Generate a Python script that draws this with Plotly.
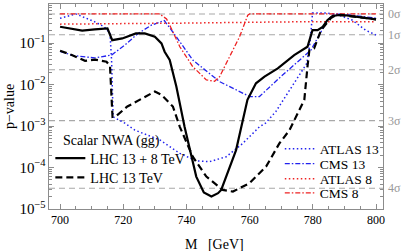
import math
import plotly.graph_objects as go

# ---------------- data ----------------
m_comb = [700, 707, 711, 715, 716.5, 719.7, 724, 726.8, 730, 732.1, 733.1, 734.7, 736.8, 739.4,
          743.1, 745.5, 747.9, 750, 751, 755.7, 759.3, 762, 764.7, 768.9, 774.1, 778.3, 779.9,
          781.5, 783.1, 784.6, 786.2, 789, 800]
p_comb = [0.247, 0.200, 0.214, 0.226, 0.117, 0.129, 0.170, 0.170, 0.141, 0.098, 0.0617, 0.0389,
          0.00891, 0.000955, 6.03e-05, 2.51e-05, 2.0e-05, 2.4e-05, 2.88e-05, 0.000263, 0.00427,
          0.0107, 0.0155, 0.0245, 0.0513, 0.0813, 0.204, 0.204, 0.245, 0.355, 0.447, 0.479, 0.372]

m_13 = [700, 703.7, 707.9, 711, 714.7, 715.8, 716.6, 717.9, 721.3, 726.8, 730, 732.1, 733.7, 735.7,
        737.9, 742, 746.3, 751.5, 754.7, 759.9, 765.2, 769.4, 772.6, 776, 777.3, 778.3, 778.9,
        780.4, 782.6, 785.7, 787.3, 791.5, 800]
p_13 = [0.0653, 0.0513, 0.0372, 0.0398, 0.0355, 0.0282, 0.00166, 0.00178, 0.00295, 0.00513,
        0.00676, 0.00562, 0.00427, 0.00295, 0.000955, 0.000182, 6.03e-05, 2.88e-05, 2.63e-05,
        4.17e-05, 0.000105, 0.00038, 0.000794, 0.00282, 0.00427, 0.0269, 0.0676, 0.0741, 0.204,
        0.398, 0.473, 0.447, 0.372]

m_atlas13 = [700, 705, 711, 714, 715.8, 716.3, 716.8, 720.5, 723.7, 726.3, 731.7, 737.9, 743.1,
             747.3, 752.6, 757.8, 763.1, 765, 768.3, 778.1, 779.1, 779.9, 784, 787.3, 792.5,
             796.7, 800]
p_atlas13 = [0.394, 0.501, 0.324, 0.245, 0.170, 0.0389, 0.00166, 0.00117, 0.000794, 0.000661,
             0.000457, 0.000219, 0.000145, 0.000138, 0.000182, 0.00038, 0.000955, 0.00117,
             0.00224, 0.0324, 0.1, 0.525, 0.525, 0.501, 0.355, 0.204, 0.155]

m_cms13 = [700, 704, 711, 714.7, 716.3, 720.5, 724.7, 728.9, 732, 733, 736.8, 742, 750.5, 760,
           763.1, 770, 779.4, 784.6, 786.8, 790, 800]
p_cms13 = [0.0631, 0.0501, 0.0437, 0.0501, 0.0513, 0.0891, 0.170, 0.269, 0.324, 0.347, 0.141,
           0.0389, 0.0117, 0.00513, 0.00513, 0.0158, 0.0676, 0.355, 0.501, 0.490, 0.398]

m_atlas8 = [700, 720, 740, 760, 780, 800]
p_atlas8 = [0.285, 0.288, 0.302, 0.316, 0.327, 0.324]

m_cms8 = [700, 731.5, 733.7, 734.7, 737.9, 742, 746.3, 748.9, 750.5, 754.2, 756.8, 759.4, 760, 800]
p_cms8 = [0.501, 0.501, 0.380, 0.269, 0.0813, 0.0269, 0.0129, 0.012, 0.0155, 0.0562, 0.141,
          0.468, 0.501, 0.501]

sigma_labels = ["0σ", "1σ", "2σ", "3σ", "4σ"]
sigma_p = [0.5, 0.158655, 0.02275, 0.0013499, 3.167e-05]

legend_title = "Scalar NWA (gg)"
x_range = [696.5, 802.2]

FONT = "Liberation Serif"
BLUE = "#2222ee"
RED = "#ee2222"
GRAY = "#a8a8a8"
AX = "#8c8c8c"

fig = go.Figure()

# sigma reference lines
for lab, p in zip(sigma_labels, sigma_p):
    fig.add_trace(go.Scatter(x=x_range, y=[p, p], mode="lines", showlegend=False,
                             line=dict(color=GRAY, width=1.1, dash="6px,4px"), hoverinfo="skip"))

fig.add_trace(go.Scatter(x=m_atlas13, y=p_atlas13, mode="lines", name="ATLAS 13", legend="legend2",
                         line=dict(color=BLUE, width=1.5, dash="1.5px,2.5px")))
fig.add_trace(go.Scatter(x=m_cms13, y=p_cms13, mode="lines", name="CMS 13", legend="legend3",
                         line=dict(color=BLUE, width=1.3, dash="5px,2px,1.5px,2px")))
fig.add_trace(go.Scatter(x=m_atlas8, y=p_atlas8, mode="lines", name="ATLAS 8", legend="legend4",
                         line=dict(color=RED, width=1.5, dash="1.5px,2.5px")))
fig.add_trace(go.Scatter(x=m_cms8, y=p_cms8, mode="lines", name="CMS 8", legend="legend5",
                         line=dict(color=RED, width=1.3, dash="5px,2px,1.5px,2px")))
fig.add_trace(go.Scatter(x=m_comb, y=p_comb, mode="lines", name="LHC 13 + 8 TeV", legend="legend",
                         line=dict(color="black", width=2.2)))
fig.add_trace(go.Scatter(x=m_13, y=p_13, mode="lines", name="LHC 13 TeV", legend="legend6",
                         line=dict(color="black", width=2.2, dash="7px,4px")))

annotations = []
for lab, p in zip(sigma_labels, sigma_p):
    annotations.append(dict(x=1, xref="paper", y=math.log10(p), yref="y", text=lab,
                            showarrow=False, xanchor="left", xshift=3,
                            font=dict(family=FONT, size=12, color="#999999")))
annotations.append(dict(x=0.5, xref="paper", y=-0.125, yref="paper", text="M   [GeV]",
                        showarrow=False, yanchor="top", xshift=-2,
                        font=dict(family=FONT, size=14, color="black")))
annotations.append(dict(x=-0.118, xref="paper", y=0.5, yref="paper", text="p−value",
                        showarrow=False, textangle=-90, xanchor="center",
                        font=dict(family=FONT, size=14, color="black")))
annotations.append(dict(x=0.037, xref="paper", y=0.332, yref="paper", text=legend_title,
                        showarrow=False, xanchor="left", yanchor="middle",
                        font=dict(family=FONT, size=14, color="black")))


def leg(x, y, size):
    return dict(x=x, y=y, xanchor="left", yanchor="middle", bgcolor="rgba(0,0,0,0)",
                font=dict(family=FONT, size=size, color="black"), tracegroupgap=0)


fig.update_layout(
    width=403, height=251,
    margin=dict(l=49, r=19.5, t=4, b=42),
    paper_bgcolor="white", plot_bgcolor="white",
    font=dict(family=FONT, size=12, color="black"),
    annotations=annotations,
    legend=leg(0.004, 0.246, 14),
    legend6=leg(0.004, 0.152, 14),
    legend2=leg(0.691, 0.293, 13.5),
    legend3=leg(0.691, 0.220, 13.5),
    legend4=leg(0.691, 0.147, 13.5),
    legend5=leg(0.691, 0.078, 13.5),
)
fig.update_xaxes(range=x_range, dtick=20, tick0=700, ticks="inside", ticklen=5, tickcolor=AX,
                 showline=True, linecolor=AX, linewidth=1, mirror="ticks", showgrid=False,
                 zeroline=False, tickfont=dict(family=FONT, size=12),
                 minor=dict(dtick=5, ticks="inside", ticklen=3, tickcolor=AX, showgrid=False))
fig.update_yaxes(type="log", range=[-5, -0.06], dtick=1, exponentformat="power",
                 showexponent="all", ticks="inside", ticklen=5, tickcolor=AX,
                 showline=True, linecolor=AX, linewidth=1, mirror="ticks", showgrid=False,
                 zeroline=False, tickfont=dict(family=FONT, size=12),
                 minor=dict(ticks="inside", ticklen=3, tickcolor=AX, showgrid=False))

fig.write_html("out.html", config={"displayModeBar": False},
               post_script="document.body.style.margin='0';")
